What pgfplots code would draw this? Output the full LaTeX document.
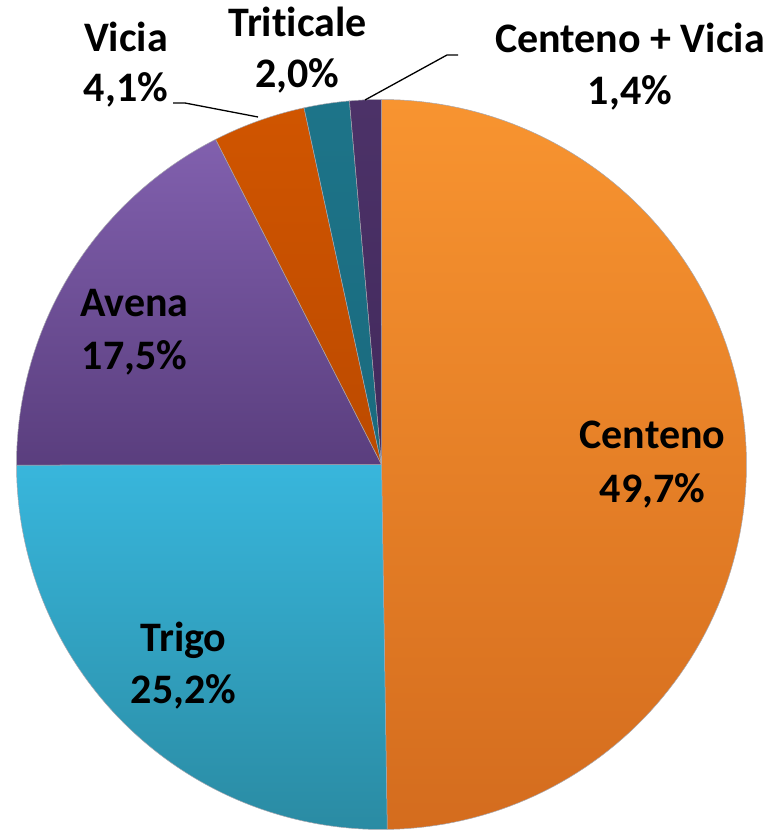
\documentclass[border=0pt]{standalone}
\usepackage{pgfplots}
\pgfplotsset{compat=1.18}
\usepackage{fontspec}
\setmainfont{Carlito}[Ligatures=NoCommon]
\definecolor{cenT}{HTML}{F89430}
\definecolor{cenB}{HTML}{D46C1E}
\definecolor{triT}{HTML}{38B6DC}
\definecolor{triB}{HTML}{2A8BA3}
\definecolor{aveT}{HTML}{8160AE}
\definecolor{aveB}{HTML}{5A3E7E}
\definecolor{vicT}{HTML}{D05500}
\definecolor{vicB}{HTML}{BC4A00}
\definecolor{ttcT}{HTML}{1D7489}
\definecolor{ttcB}{HTML}{1A6A7E}
\definecolor{cvT}{HTML}{4C3268}
\definecolor{cvB}{HTML}{42295C}
\definecolor{sep}{HTML}{A8A8B0}
\tikzset{lbl/.style={font=\fontsize{42}{48}\selectfont\bfseries, anchor=base, inner sep=0pt}}
\begin{document}
\begin{tikzpicture}
\useasboundingbox (0,0) rectangle (770pt,831pt);
\begin{axis}[
  at={(0,0)}, anchor=south west,
  scale only axis, width=770pt, height=831pt,
  xmin=-381.5, xmax=388.5, ymin=-366.5, ymax=464.5,
  hide axis, clip=false,
  every axis plot/.append style={mark=none, samples=120, data cs=polar, draw=sep, line width=0.5pt},
]
% shares (%): Centeno 49.7, Trigo 25.2, Avena 17.5, Vicia 4.1, Triticale 2.0, Centeno+Vicia 1.4
\addplot[top color=cenT, bottom color=cenB, domain=90:-89.10] {365} -- (axis cs:0,0) -- cycle;
\addplot[top color=triT, bottom color=triB, domain=-89.10:-179.91] {365} -- (axis cs:0,0) -- cycle;
\addplot[top color=aveT, bottom color=aveB, domain=-179.91:-242.97] {365} -- (axis cs:0,0) -- cycle;
\addplot[top color=vicT, bottom color=vicB, domain=-242.97:-257.75] {365} -- (axis cs:0,0) -- cycle;
\addplot[top color=ttcT, bottom color=ttcB, domain=-257.75:-264.96] {365} -- (axis cs:0,0) -- cycle;
\addplot[top color=cvT, bottom color=cvB, domain=-264.96:-270] {365} -- (axis cs:0,0) -- cycle;

\draw[black, line width=1.3pt] (axis cs:-208.5,361.5) -- (axis cs:-196.5,361.5) -- (axis cs:-123.5,347.5);
\draw[black, line width=1.3pt] (axis cs:76.5,409.5) -- (axis cs:65.5,409.5) -- (axis cs:-16.5,364.5);

\node[lbl] at (axis cs:271,15.5) {Centeno};
\node[lbl] at (axis cs:271,-38.5) {49,7\%};
\node[lbl] at (axis cs:-198,-187.5) {Trigo};
\node[lbl] at (axis cs:-198,-238.5) {25,2\%};
\node[lbl] at (axis cs:-247,147.5) {Avena};
\node[lbl] at (axis cs:-247,94.5) {17,5\%};
\node[lbl] at (axis cs:-255.5,412.5) {Vicia};
\node[lbl] at (axis cs:-255.5,362.5) {4,1\%};
\node[lbl] at (axis cs:-84,427.5) {Triticale};
\node[lbl] at (axis cs:-84,376.5) {2,0\%};
\node[lbl] at (axis cs:248.5,411.5) {Centeno + Vicia};
\node[lbl] at (axis cs:248.5,359.5) {1,4\%};
\end{axis}
\end{tikzpicture}
\end{document}
